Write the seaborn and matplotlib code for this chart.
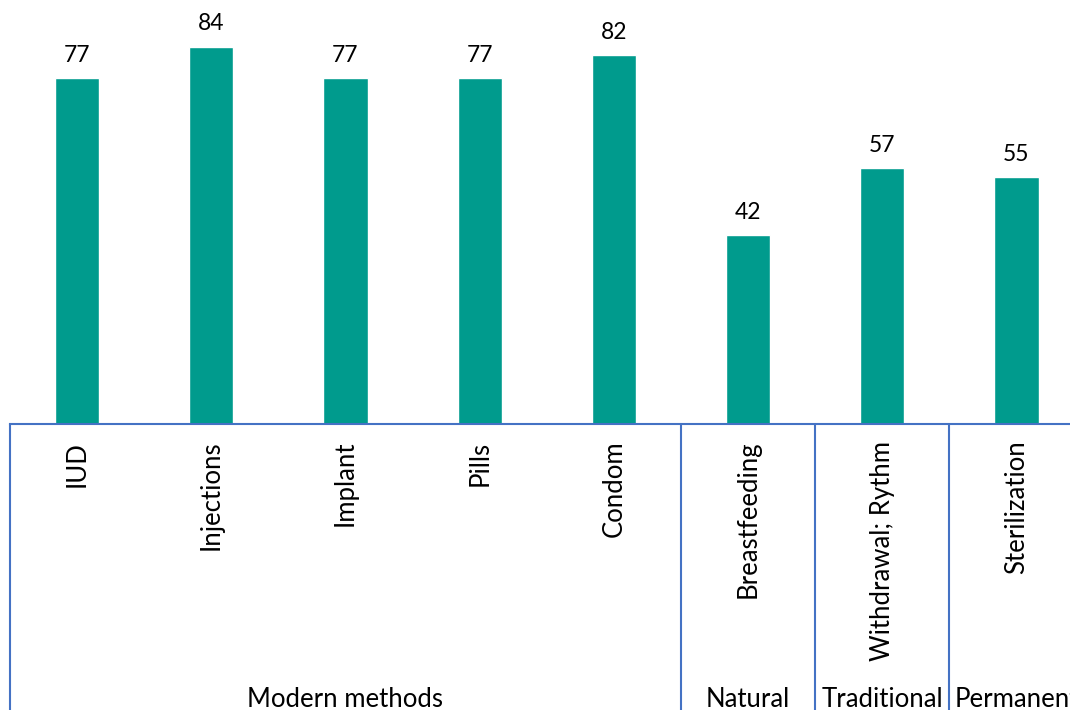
import matplotlib
matplotlib.use("Agg")
import matplotlib.pyplot as plt
import matplotlib.transforms as mtransforms
import seaborn as sns
import pandas as pd

methods = ["IUD", "Injections", "Implant", "Pills", "Condom",
           "Breastfeeding", "Withdrawal; Rythm", "Sterilization"]
values = [77, 84, 77, 77, 82, 42, 57, 55]
groups = ["Modern methods", "Natural", "Traditional", "Permanent"]
group_sizes = [5, 1, 1, 1]

sns.set_theme(style="white")
plt.rcParams["font.family"] = ["Lato", "DejaVu Sans"]

df = pd.DataFrame({"method": methods, "value": values})

fig = plt.figure(figsize=(10.7, 7.1), dpi=100)
W, H = 1070, 710
left_px, base_px, step_px = 10, 424, 134.2
ax = fig.add_axes([left_px / W, (H - base_px) / H, 8 * step_px / W, base_px / H])

bar_color = "#009B8D"
line_color = "#4472C4"
sns.barplot(data=df, x="method", y="value", color=bar_color, width=0.33,
            saturation=1, ax=ax)

ax.set_xlim(-0.5, len(methods) - 0.5)
ax.set_ylim(0, 94.35)
ax.set_xlabel("")
ax.set_ylabel("")
ax.set_yticks([])
for s in ["top", "right", "left"]:
    ax.spines[s].set_visible(False)
ax.spines["bottom"].set_color(line_color)
ax.spines["bottom"].set_linewidth(1.5)

ax.tick_params(axis="x", length=0, pad=12)
ax.set_xticks(range(len(methods)))
ax.set_xticklabels(methods, rotation=90, fontsize=18.5, color="black")

for i, v in enumerate(values):
    ax.text(i, v + 3.6, f"{v}", ha="center", va="baseline", fontsize=16.5,
            color="black")

trans = mtransforms.blended_transform_factory(ax.transData, ax.transAxes)
pos = -0.5
bounds = [pos]
for g, n in zip(groups, group_sizes):
    center = pos + n / 2
    ax.text(center, -0.667, g, transform=trans, ha="center", va="baseline",
            fontsize=18.5, color="black", clip_on=False)
    pos += n
    bounds.append(pos)
for b in bounds:
    ax.plot([b, b], [0, -0.7], transform=trans, color=line_color, lw=1.5,
            clip_on=False)

fig.savefig("out.png", dpi=100)
